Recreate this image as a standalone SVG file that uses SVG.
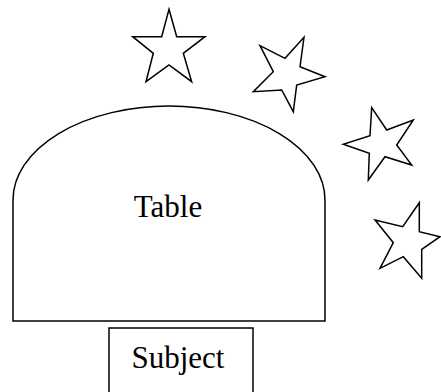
<svg xmlns="http://www.w3.org/2000/svg" width="441" height="392" viewBox="0 0 441 392">
<style>
.s{fill:#fff;stroke:#000;stroke-width:1.5;stroke-linejoin:miter}
.t{font-family:"Liberation Serif","Times New Roman",serif;font-size:31px;fill:#000}
</style>
<rect width="441" height="392" fill="#fff"/>
<g id="table">
<path class="s" d="M13,321 L13,200 A156,94 0 0 1 325,200 L325,321 Z"/>
<text class="t" x="168" y="217" text-anchor="middle">Table</text>
</g>
<g id="subject">
<rect class="s" x="109" y="328" width="144" height="80"/>
<text class="t" x="178" y="368" text-anchor="middle">Subject</text>
</g>
<g id="star1"><polygon class="s" points="169,9.3 176.7,36.7 205,36.7 183.3,53.3 191.7,81.7 169,65 146,81.7 153.3,53.3 132.7,36.7 161.7,36.7"/></g>
<g id="star2"><polygon class="s" points="260,45.7 285,58.3 304,37.3 300,66.7 325,76.7 296.7,85 293.3,111.7 281.7,90 253.3,91.7 273.3,71.7"/></g>
<g id="star3"><polygon class="s" points="371.7,107.7 386.7,130 413.3,120 396.7,145 411.7,165 385,156.7 368.3,180 369.3,153.3 343.3,144.3 370,135.7"/></g>
<g id="star4"><polygon class="s" points="419.3,202.7 419.3,231.7 440,236.7 421.7,249.3 421.7,278.3 403.3,256.7 380,268.3 393.3,242.7 375,220 402.7,226.7"/></g>
<g id="connectors"></g>
</svg>
